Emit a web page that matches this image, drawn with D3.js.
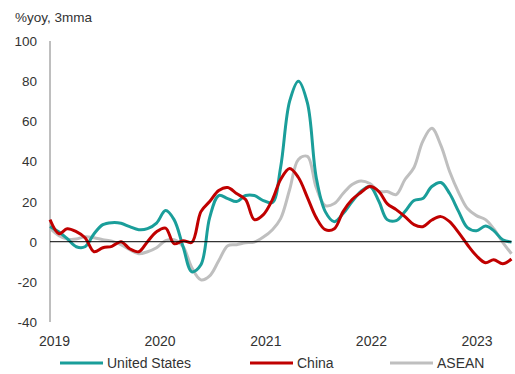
<!DOCTYPE html>
<html><head><meta charset="utf-8">
<script src="https://cdn.jsdelivr.net/npm/d3@7"></script>
<style>body{margin:0;background:#fff}svg{display:block;font-family:"Liberation Sans",Arial,sans-serif}</style>
</head><body><svg id="c" width="515" height="374"></svg>
<script>
const startYear = 2019, startMonth = 0; // monthly data Jan 2019 .. May 2023
const unitedStates = [7.6,4.8,1.5,-2.5,-2.5,4,8.5,9.5,9.2,7.5,6,6.5,9.3,15.5,11,-2.5,-15,-11.5,12,23,21.5,20,23,23,20.5,19.5,37,70,80,69,32,15,10,14,20,25,27.5,20,11,10.5,15,20.5,21.5,27.5,29.5,24,15,7,5.5,7.8,5.5,1,-0.2];
const china = [11,4,6.5,5,2,-5,-3,-2.3,0,-3.5,-5,0,5,6.8,-1,0.5,-0.3,15,20,25.5,27,24,21,11,13.5,21,31,36.5,32,22,12,6,6.5,15,21,24.5,27.5,25,19,16,12.5,8.5,7.5,10.8,12.5,10,4.5,-1.5,-7,-10.5,-9,-11,-8.6];
const asean = [6.8,3,1.3,1.3,2.5,2,1,0.3,-1.5,-4,-6,-5,-3,0.5,1,-2.5,-13,-19,-17,-9.5,-2,-1.5,-0.5,-0.2,2.3,6,11.5,26,41,42.5,27,18,19,24,28.5,30.3,29,25,25,23.5,31,37,50,56.5,48,35,24.5,16.5,13,11,6.5,-0.3,-6];
const yTicks = [-40,-20,0,20,40,60,80,100];
const xLabels = ["2019","2020","2021","2022","2023"];
const seriesNames = ["United States","China","ASEAN"];
const seriesColors = ["#1a9e9a","#c00000","#bfbfbf"];

const svg = d3.select("#c");
const n = unitedStates.length;
const dates = d3.range(n).map(i => new Date(startYear, startMonth + i, 1));
const x = d3.scaleTime().domain([dates[0], dates[n-1]]).range([50, 511.5]);
const y = d3.scaleLinear().domain([-40, 100]).range([322, 41]);

svg.append("text").attr("x", 15).attr("y", 22).attr("font-size", 13.5).attr("fill", "#333").text("%yoy, 3mma");

svg.selectAll(".yl").data(yTicks).enter().append("text")
  .attr("x", 37).attr("y", d => y(d) + 5).attr("text-anchor", "end")
  .attr("font-size", 13.5).attr("fill", "#333").text(d => d);

svg.append("line").attr("x1", 50).attr("x2", 50).attr("y1", y(100)).attr("y2", y(-40))
  .attr("stroke", "#7f7f7f").attr("stroke-width", 1);

svg.selectAll(".xl").data(xLabels).enter().append("text")
  .attr("x", (d, i) => x(new Date(+d, 0, 1)) + 4.5 - i * 1)
  .attr("y", 346).attr("text-anchor", "middle").attr("font-size", 14).attr("fill", "#333").text(d => d);

const line = d3.line().x((d, i) => x(dates[i])).y(d => y(d)).curve(d3.curveCatmullRom.alpha(0.5));
const all = [unitedStates, china, asean];
[2, 0, 1].forEach(k => {
  svg.append("path").datum(all[k]).attr("d", line).attr("fill", "none")
    .attr("stroke", seriesColors[k]).attr("stroke-width", 3).attr("stroke-linejoin", "round");
});

svg.append("line").attr("x1", 50).attr("x2", 511.5).attr("y1", y(0)).attr("y2", y(0))
  .attr("stroke", "#000").attr("stroke-width", 1);

const legX = [60, 250, 390];
seriesNames.forEach((name, i) => {
  svg.append("line").attr("x1", legX[i]).attr("x2", legX[i] + 43).attr("y1", 363).attr("y2", 363)
    .attr("stroke", seriesColors[i]).attr("stroke-width", 3);
  svg.append("text").attr("x", legX[i] + 47).attr("y", 368).attr("font-size", 14).attr("fill", "#333").text(name);
});
</script></body></html>
